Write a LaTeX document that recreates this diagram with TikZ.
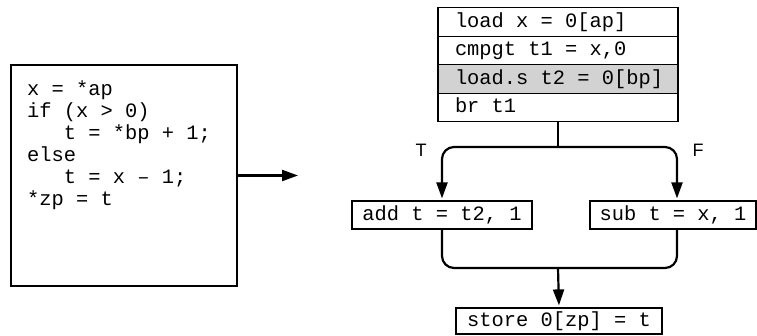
\documentclass[tikz,border=0pt]{standalone}
\usepackage{fontspec}
\setmainfont{Liberation Sans}
\setmonofont{Liberation Mono}
\usetikzlibrary{arrows.meta,positioning,calc}
\newcommand{\ind}{\phantom{xxx}}
\tikzset{
  instr/.style={draw,line width=1.2pt,font=\ttfamily\fontsize{20.4}{22}\selectfont,
    inner ysep=0pt,text height=14pt,text depth=4pt,minimum height=28pt},
  blockrow/.style={instr,inner xsep=17pt,minimum height=28.5pt,outer sep=0pt,
    execute at begin node={\hbox to 206pt\bgroup},
    execute at end node={\hfil\egroup}},
  shaded/.style={fill=gray!35},
  codebox/.style={draw,line width=1.2pt,minimum width=226pt,minimum height=221pt,inner sep=0pt},
  codetext/.style={font=\ttfamily\fontsize{20.4}{22}\selectfont,align=left,inner sep=0pt},
  wire/.style={draw,line width=2.2pt,rounded corners=12pt},
  flow/.style={wire,-{Triangle[length=16pt,width=11pt]},shorten >=2pt},
  branchlabel/.style={font=\fontsize{18}{18}\selectfont,inner sep=0pt}
}
\begin{document}
\begin{tikzpicture}[x=1pt,y=-1pt]
  \useasboundingbox (0,0) rectangle (757,335);

  % source code
  \node[codebox] (src) at (124,175.5) {};
  \node[codetext,anchor=base west] (srccode) at (27,205)
    {x = *ap\\ if (x > 0)\\ \ind t = *bp + 1;\\ else\\ \ind t = x – 1;\\ *zp = t};
  \coordinate (tip) at (298,175.5);
  \draw[flow,shorten >=0pt] (src.east) -- (tip);

  % block of instructions
  \node[blockrow] (r1) at (558,22) {load x = 0[ap]};
  \node[blockrow,below=0pt of r1] (r2) {cmpgt t1 = x,0};
  \node[blockrow,shaded,below=0pt of r2] (r3) {load.s t2 = 0[bp]};
  \node[blockrow,below=0pt of r3] (r4) {br t1};

  % branches
  \node[instr,minimum width=180pt] (add) at (442,215) {add t = t2, 1};
  \node[instr,minimum width=166pt] (sub) at (673,215) {sub t = x, 1};
  \node[instr,minimum width=206pt,minimum height=26pt] (store) at (559,321) {store 0[zp] = t};

  \node[branchlabel] (tlabel) at (421,150) {T};
  \node[branchlabel] (flabel) at (698,150) {F};

  \coordinate (split) at (558,147);
  \coordinate (rightlane) at (677,147);
  \coordinate (merge) at (558,268);

  \draw[wire] (r4.south) -- (split);
  \draw[flow] (split) -| (add.north);
  \draw[flow] (split) -| (rightlane |- sub.north);
  \draw[wire] (add.south) |- (merge);
  \draw[wire] (rightlane |- sub.south) |- (merge);
  \draw[flow] (merge) -- (store.north);
\end{tikzpicture}
\end{document}
